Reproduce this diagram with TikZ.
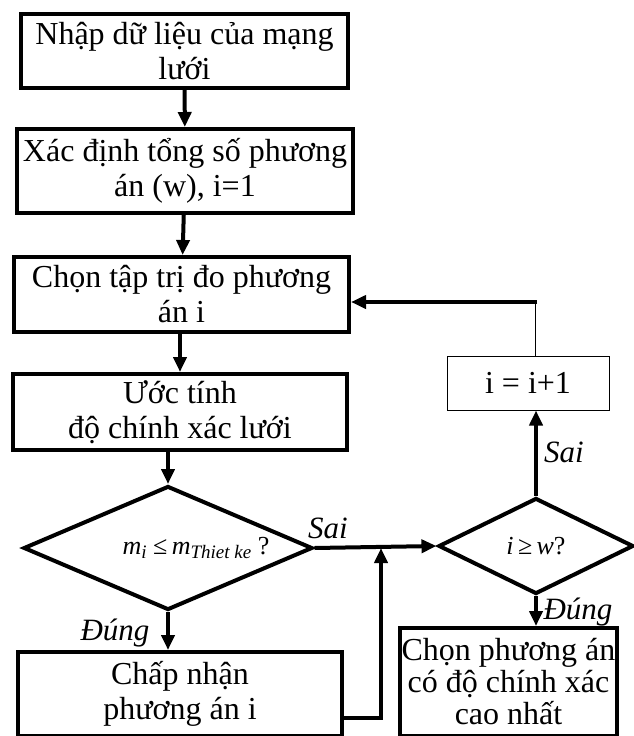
\documentclass[tikz,border=0pt]{standalone}
\usepackage{fontspec}
\setmainfont{Liberation Serif}
\usetikzlibrary{shapes.geometric,arrows.meta}

\begin{document}
\begin{tikzpicture}[x=1pt,y=-1pt,
  box/.style={draw, line width=4pt, rectangle, inner sep=0pt, align=center,
    font=\fontsize{32}{35}\selectfont},
  thinbox/.style={draw, line width=1pt, rectangle, inner sep=0pt, align=center,
    font=\fontsize{32}{35}\selectfont},
  dia/.style={draw, line width=4pt, diamond, inner sep=0pt,
    font=\fontsize{26}{30}\selectfont},
  flow/.style={line width=4pt, -{Triangle[length=15pt,width=13pt]}},
  plain/.style={line width=4pt},
  hair/.style={line width=1pt},
  lbl/.style={font=\fontsize{31}{34}\selectfont\itshape, inner sep=0pt}
]
\useasboundingbox (0,0) rectangle (634,736);

% main column
\node[box, minimum width=327pt, minimum height=74pt] (input) at (184.5,51) {Nhập dữ liệu của mạng\\lưới};
\node[box, minimum width=336pt, minimum height=84pt] (count) at (185,171) {Xác định tổng số phương\\án (w), i=1};
\node[box, minimum width=335pt, minimum height=75pt] (pick) at (181.5,294.5) {Chọn tập trị đo phương\\án i};
\node[box, minimum width=334pt, minimum height=76pt] (est) at (180,412) {Ước tính\\độ chính xác lưới};
\node[dia, minimum width=289pt, minimum height=124pt] (check) at (168,548) {};
\node[font=\fontsize{26}{30}\selectfont, inner sep=0pt] (checktext) at (196,548)
  {\itshape m\raisebox{-0.35ex}{\fontsize{19}{20}\selectfont i}\upshape\ ≤\,\itshape m\raisebox{-0.35ex}{\fontsize{19}{20}\selectfont Thiet ke}\upshape\ ?};
\node[box, minimum width=324pt, minimum height=84pt] (accept) at (180,694) {Chấp nhận\\phương án i};

% right column
\node[dia, minimum width=195pt, minimum height=96pt] (last) at (536,546) {\itshape i\upshape\,≥\,\itshape w\upshape ?};
\node[box, minimum width=217pt, minimum height=108pt, font=\fontsize{32}{32}\selectfont] (best) at (508.5,682) {Chọn phương án\\có độ chính xác\\cao nhất};
\node[thinbox, minimum width=162pt, minimum height=54pt] (next) at (528,383) {i = i+1};

% junction points
\coordinate (loop) at (535,302);
\coordinate (merge) at (381,548);

% connectors
\draw[flow] (input) -- (count);
\draw[flow] (count) -- (pick);
\draw[flow] (pick.south -| est.north) -- (est);
\draw[flow] (est.south -| check.north) -- (check.north);
\draw[flow] (check.south) -- (accept.north -| check.south);
\draw[flow] (check.east) -- (last.west);
\draw[flow] (accept.east |- 0,718) -| (merge);
\draw[flow] (last.south) -- (best.north -| last.south);
\draw[flow] (last.north) -- (last.north |- next.south);
\draw[hair] (next.north -| loop) -- (loop);
\draw[flow] ([xshift=2pt]loop) -- (loop -| pick.east);

% branch labels
\node[lbl] (sai1) at (328,528) {Sai};
\node[lbl, anchor=west] (sai2) at (544,452) {Sai};
\node[lbl] (dung1) at (115,633) {Đúng};
\node[lbl] (dung2) at (578,612) {Đúng};
\end{tikzpicture}
\end{document}
